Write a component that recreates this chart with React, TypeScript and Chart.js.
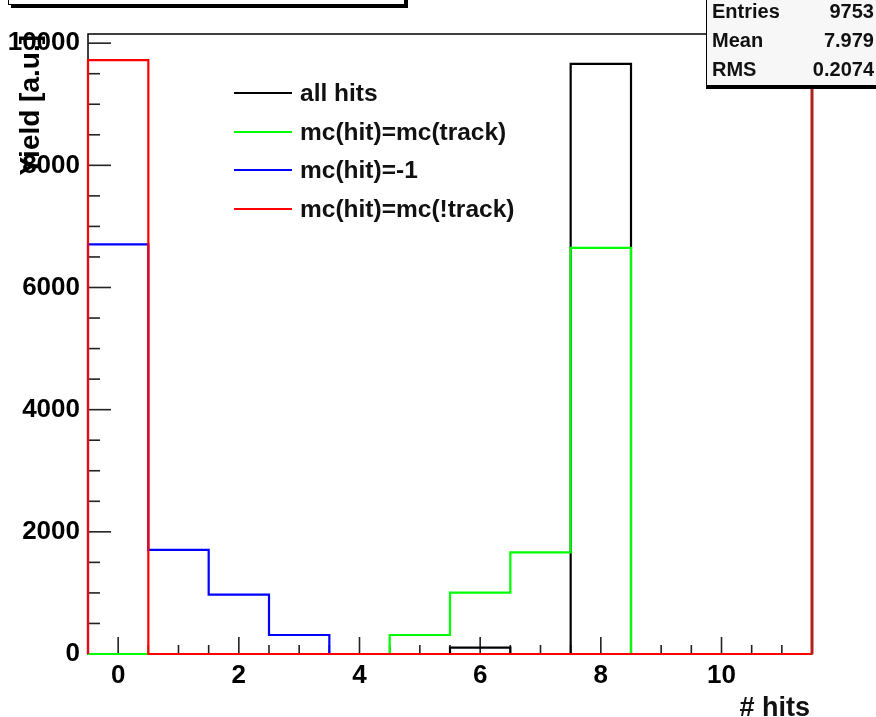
import React, { useEffect, useRef } from "react";
import { Chart, registerables } from "chart.js";

Chart.register(...registerables);

// ---- data ----
const binCenters = [0, 1, 2, 3, 4, 5, 6, 7, 8, 9, 10, 11];
const allHits = [0, 0, 0, 0, 0, 0, 103, 0, 9660, 0, 0, 0];
const mcTrack = [0, 0, 0, 0, 0, 311, 1004, 1665, 6650, 0, 0, 0];
const mcMinusOne = [6705, 1705, 972, 311, 0, 0, 0, 0, 0, 0, 0, 0];
const mcNotTrack = [9722, 0, 0, 0, 0, 0, 0, 0, 0, 0, 0, 0];

const seriesLabels = ["all hits", "mc(hit)=mc(track)", "mc(hit)=-1", "mc(hit)=mc(!track)"];
const seriesColors = ["#000000", "#00ff00", "#0000ff", "#ff0000"];

const xTickValues = [0, 2, 4, 6, 8, 10];
const yTickValues = [0, 2000, 4000, 6000, 8000, 10000];
const xMin = -0.5;
const xMax = 11.5;
const yMin = 0;
const yMax = 10150;
const binWidth = 1;

const statsLabels = ["Entries", "Mean", "RMS"];
const statsValues = ["9753", "7.979", "0.2074"];

const xTitle = "# hits";
const yTitle = "Yield [a.u.]";

const FONT = "'Liberation Sans', Arial, Helvetica, sans-serif";

// Build a ROOT-like histogram contour from bin centres and contents
function histContour(values: number[]) {
  const pts: { x: number; y: number }[] = [{ x: xMin, y: 0 }];
  values.forEach((v, i) => {
    const lo = binCenters[i] - binWidth / 2;
    const hi = binCenters[i] + binWidth / 2;
    pts.push({ x: lo, y: v });
    pts.push({ x: hi, y: v });
  });
  pts.push({ x: xMax, y: 0 });
  return pts;
}

const rootFramePlugin = {
  id: "rootFrame",
  beforeDatasetsDraw(chart: any) {
    const { ctx, chartArea: a, scales } = chart;
    const xs = scales.x;
    const ys = scales.y;
    ctx.save();
    ctx.strokeStyle = "#000";
    ctx.lineWidth = 1.5;
    ctx.strokeRect(a.left, a.top, a.right - a.left, a.bottom - a.top);
    ctx.lineWidth = 1.6;
    ctx.strokeStyle = "#222";
    // y ticks (inside the frame)
    for (let v = yMin; v <= yMax; v += 500) {
      const p = ys.getPixelForValue(v);
      const len = v % 2000 === 0 ? 23 : 12;
      ctx.beginPath();
      ctx.moveTo(a.left, p);
      ctx.lineTo(a.left + len, p);
      ctx.stroke();
    }
    // x ticks (inside the frame)
    for (let v = xMin; v <= xMax + 1e-9; v += 0.5) {
      const p = xs.getPixelForValue(v);
      const len = Math.abs(v % 2) < 1e-9 ? 17 : 9;
      ctx.beginPath();
      ctx.moveTo(p, a.bottom);
      ctx.lineTo(p, a.bottom - len);
      ctx.stroke();
    }
    ctx.restore();
  },
  afterDatasetsDraw(chart: any) {
    const { ctx, chartArea: a } = chart;
    ctx.save();
    // right frame edge (red over black)
    ctx.strokeStyle = "#b3221a";
    ctx.lineWidth = 3;
    ctx.beginPath();
    ctx.moveTo(a.right, a.bottom);
    ctx.lineTo(a.right, a.top);
    ctx.stroke();
    ctx.restore();
  },
  afterDraw(chart: any) {
    const { ctx, chartArea: a } = chart;
    ctx.save();
    ctx.fillStyle = "#000";
    ctx.font = `bold 28px ${FONT}`;
    ctx.translate(39, a.top + 1);
    ctx.rotate(-Math.PI / 2);
    ctx.textAlign = "right";
    ctx.textBaseline = "alphabetic";
    ctx.fillText(yTitle, 0, 0);
    ctx.restore();
  },
};

export default function App() {
  const canvasRef = useRef<HTMLCanvasElement | null>(null);

  useEffect(() => {
    if (!canvasRef.current) return;
    const series = [allHits, mcTrack, mcMinusOne, mcNotTrack];
    const orders = [3, 2, 1, 0];
    const chart = new Chart(canvasRef.current, {
      type: "line",
      data: {
        datasets: series.map((vals, i) => ({
          label: seriesLabels[i],
          data: histContour(vals),
          borderColor: seriesColors[i],
          backgroundColor: seriesColors[i],
          borderWidth: 2.2,
          pointRadius: 0,
          fill: false,
          tension: 0,
          order: orders[i],
          clip: 3,
        })),
      },
      options: {
        animation: false,
        responsive: false,
        maintainAspectRatio: false,
        layout: { padding: { top: 34, right: 64, left: 0, bottom: 0 } },
        plugins: {
          legend: { display: false },
          tooltip: { enabled: false },
        },
        scales: {
          x: {
            type: "linear",
            min: xMin,
            max: xMax,
            grid: { display: false, drawTicks: false },
            border: { display: false },
            afterBuildTicks: (s: any) => {
              s.ticks = xTickValues.map((v) => ({ value: v }));
            },
            afterFit: (s: any) => {
              s.height = 63;
            },
            ticks: {
              padding: 6,
              color: "#000",
              autoSkip: false,
              maxRotation: 0,
              font: { family: FONT, size: 26, weight: "bold" },
              callback: (v: any) => String(v),
            },
          },
          y: {
            type: "linear",
            min: yMin,
            max: yMax,
            grid: { display: false, drawTicks: false },
            border: { display: false },
            afterBuildTicks: (s: any) => {
              s.ticks = yTickValues.map((v) => ({ value: v }));
            },
            afterFit: (s: any) => {
              s.width = 88;
            },
            ticks: {
              padding: 8,
              color: "#000",
              autoSkip: false,
              font: { family: FONT, size: 26, weight: "bold" },
              callback: (v: any) => String(v),
            },
          },
        },
      },
      plugins: [rootFramePlugin],
    } as any);
    return () => chart.destroy();
  }, []);

  const legendTop = 93;
  const legendStep = 38.5;

  return (
    <div
      style={{
        position: "fixed",
        left: 0,
        top: 0,
        width: 876,
        height: 717,
        overflow: "hidden",
        background: "#fff",
        fontFamily: FONT,
      }}
    >
      <canvas ref={canvasRef} width={876} height={717} style={{ display: "block", position: "absolute", left: 0, top: 0 }} />

      {/* title box (mostly off-page) */}
      <div
        style={{
          position: "absolute",
          left: 8,
          top: -40,
          width: 395,
          height: 43,
          border: "1px solid #000",
          boxShadow: "3px 3px 0 #000",
          background: "#fff",
        }}
      />

      {/* stats box */}
      <div
        style={{
          position: "absolute",
          left: 706,
          top: -30,
          width: 220,
          height: 114,
          border: "1px solid #000",
          boxShadow: "0 3px 0 #000",
          background: "#f7f7f7",
        }}
      />
      {statsLabels.map((lab, i) => (
        <React.Fragment key={lab}>
          <div
            style={{
              position: "absolute",
              left: 712,
              top: 11 + i * 29 - 12,
              height: 24,
              lineHeight: "24px",
              fontSize: 20,
              fontWeight: "bold",
              color: "#111",
              whiteSpace: "nowrap",
            }}
          >
            {lab}
          </div>
          <div
            style={{
              position: "absolute",
              right: 2,
              top: 11 + i * 29 - 12,
              height: 24,
              lineHeight: "24px",
              fontSize: 20,
              fontWeight: "bold",
              color: "#111",
              whiteSpace: "nowrap",
              textAlign: "right",
            }}
          >
            {statsValues[i]}
          </div>
        </React.Fragment>
      ))}

      {/* legend */}
      {seriesLabels.map((lab, i) => {
        const cy = legendTop + i * legendStep;
        return (
          <React.Fragment key={lab}>
            <div
              style={{
                position: "absolute",
                left: 234,
                top: cy - 1,
                width: 58,
                height: 2,
                background: seriesColors[i],
              }}
            />
            <div
              style={{
                position: "absolute",
                left: 300,
                top: cy - 15,
                height: 30,
                lineHeight: "30px",
                fontSize: 24.5,
                fontWeight: "bold",
                color: "#111",
                whiteSpace: "nowrap",
              }}
            >
              {lab}
            </div>
          </React.Fragment>
        );
      })}

      {/* x-axis title */}
      <div
        style={{
          position: "absolute",
          right: 66,
          top: 694,
          height: 27,
          lineHeight: "27px",
          fontSize: 27,
          fontWeight: "bold",
          color: "#111",
          whiteSpace: "nowrap",
        }}
      >
        {xTitle}
      </div>
    </div>
  );
}
